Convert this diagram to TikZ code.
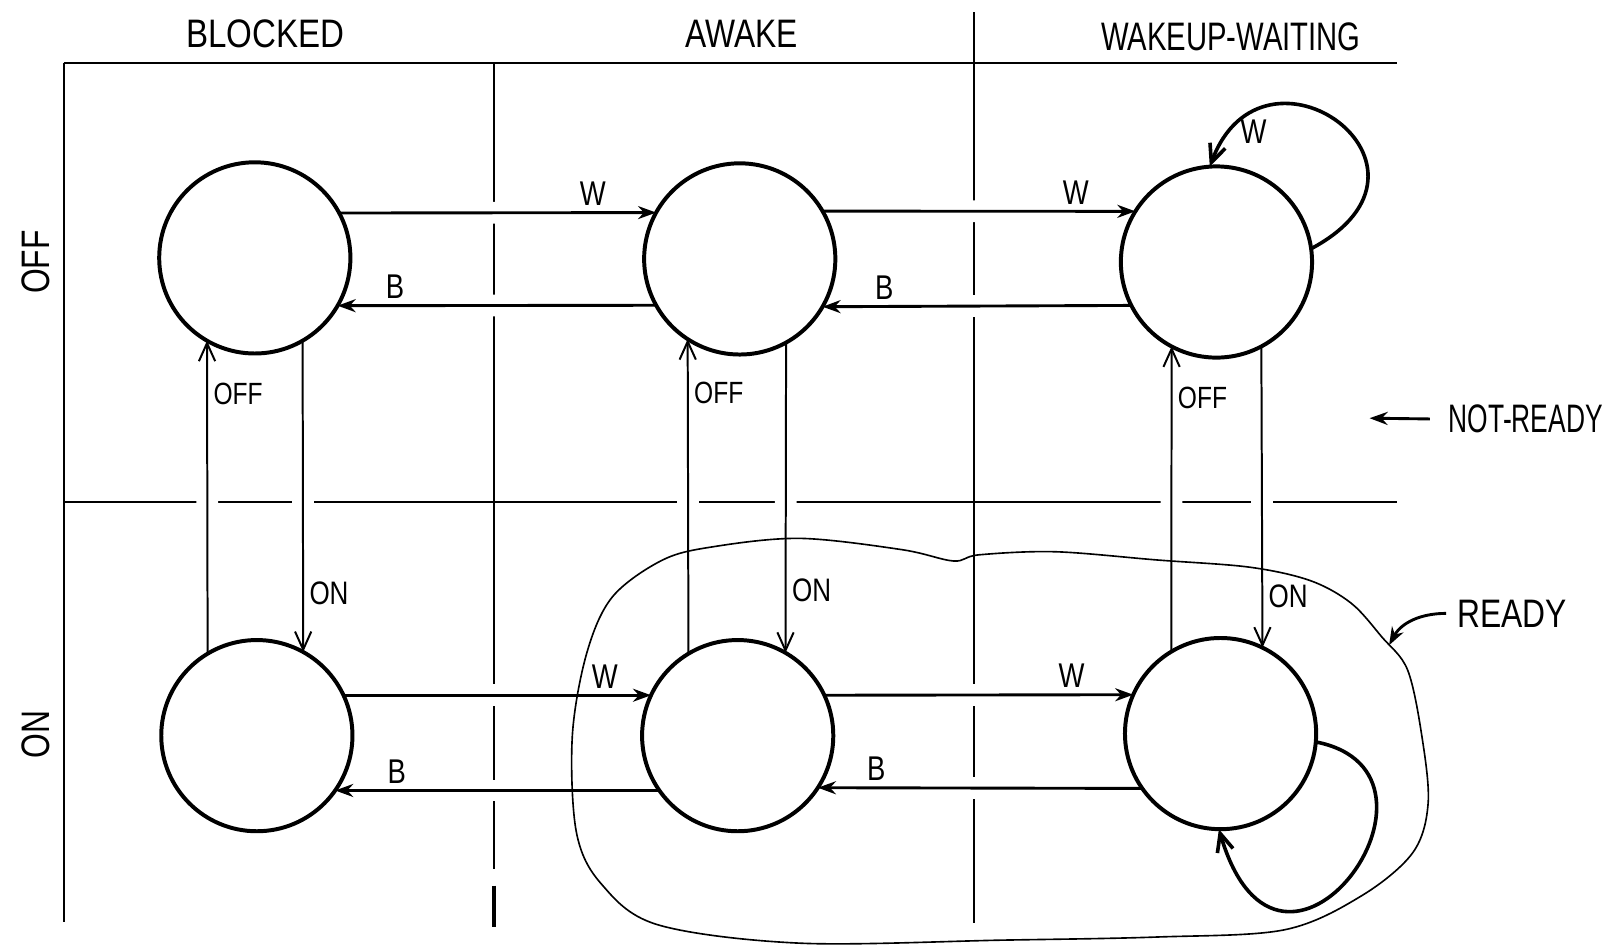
\documentclass[tikz,border=0pt]{standalone}
\usepackage{fontspec}
\newfontfamily\hand[FakeStretch=0.8]{Liberation Sans}
\usetikzlibrary{arrows.meta,calc}
\begin{document}
\begin{tikzpicture}[x=0.01cm,y=-0.01cm,
  state/.style={circle,draw,line width=1.1pt,minimum size=1.86cm,inner sep=0pt,outer sep=0pt},
  gridline/.style={line width=0.55pt},
  halo/.style={draw=white,line width=6pt,shorten <=25pt,shorten >=25pt},
  harrow/.style={line width=0.8pt,-{Stealth[length=5pt,width=3.6pt]}},
  varrow/.style={line width=0.55pt,-{Straight Barb[length=5pt,width=4.5pt]}},
  selfloop/.style={line width=1pt,-{Straight Barb[length=5pt,width=4.5pt]}},
  tlbl/.style={font=\hand\fontsize{9.5}{9.5}\selectfont,inner sep=1.5pt},
  onlbl/.style={font=\hand\fontsize{9}{9}\selectfont,inner sep=1.5pt},
  slbl/.style={font=\hand\fontsize{8.5}{8.5}\selectfont,inner sep=1.5pt},
  head/.style={font=\hand\fontsize{11}{11}\selectfont,inner sep=0pt},
  pointer/.style={line width=0.8pt,-{Stealth[length=5pt,width=3.6pt]}},
]
\useasboundingbox (0,0) rectangle (1568,923);

% states
\node[state] (A) at (248,251) {};
\node[state] (B) at (720,252) {};
\node[state] (C) at (1184,255) {};
\node[state] (D) at (250,716) {};
\node[state] (E) at (718,716) {};
\node[state] (F) at (1188,714) {};

% grid
\draw[gridline] (62,61) -- (1360,61);
\draw[gridline] (62,489) -- (1360,489);
\draw[gridline] (62,61) -- (62,897);
\draw[gridline] (481,61) -- (481,846);
\draw[line width=1pt] (481,862) -- (481,902);
\draw[gridline] (948,12) -- (948,898);

% gaps in the grid where connectors cross
\foreach \s/\t in {A.28/B.151, B.209/A.-30, B.30/C.148, C.207/B.-30,
                   D.25/E.155, E.215/D.-35, E.25/F.156, F.215/E.-33,
                   D.121/A.240, A.-60/D.61, E.121/B.237, B.-61/E.60,
                   F.121/C.242, C.-62/F.64}
  \path[halo] (\s) -- (\t);

% horizontal transitions
\draw[harrow] (A.28) -- node[tlbl,pos=0.8,above] {W} (B.151);
\draw[harrow] (B.209) -- node[tlbl,pos=0.82,above] {B} (A.-30);
\draw[harrow] (B.30) -- node[tlbl,pos=0.81,above] {W} (C.148);
\draw[harrow] (C.207) -- node[tlbl,pos=0.8,above] {B} (B.-30);
\draw[harrow] (D.25) -- node[tlbl,pos=0.85,above] {W} (E.155);
\draw[harrow] (E.215) -- node[tlbl,pos=0.81,above] {B} (D.-35);
\draw[harrow] (E.25) -- node[tlbl,pos=0.8,above] {W} (F.156);
\draw[harrow] (F.215) -- node[tlbl,pos=0.82,above] {B} (E.-33);

% vertical transitions
\draw[varrow] (D.121) -- node[slbl,pos=0.83,right] {OFF} (A.240);
\draw[varrow] (A.-60) -- node[onlbl,pos=0.81,right] {ON} (D.61);
\draw[varrow] (E.121) -- node[slbl,pos=0.83,right] {OFF} (B.237);
\draw[varrow] (B.-61) -- node[onlbl,pos=0.8,right] {ON} (E.60);
\draw[varrow] (F.121) -- node[slbl,pos=0.83,right] {OFF} (C.242);
\draw[varrow] (C.-62) -- node[onlbl,pos=0.83,right] {ON} (F.64);

% self loops
\draw[selfloop] (C.8) .. controls ($(C.8)+(150,-80)$) and ($(C.94)+(52,-140)$) .. node[tlbl,pos=0.9,right=1pt] {W} (C.94);
\draw[selfloop] (F.-5) .. controls ($(F.-5)+(154,30)$) and ($(F.-91)+(60,205)$) .. (F.-91);

% READY region
\draw[line width=0.45pt] plot[smooth cycle, tension=0.55] coordinates {
  (557,717) (571,636) (596,581) (645,545) (695,532) (779,524) (878,535)
  (928,546) (953,540) (1027,537) (1126,545) (1216,552) (1275,565)
  (1315,587) (1345,620) (1370,652) (1384,717) (1390,782) (1375,830)
  (1325,872) (1250,905) (1126,912) (977,915) (779,918) (640,900)
  (585,860) (561,810)};

% headings
\node[head] (hblocked) at (258,33) {\scalebox{1.04}[1]{BLOCKED}};
\node[head] (hawake) at (722,33) {AWAKE};
\node[head] (hww) at (1198,36) {\scalebox{0.92}[1]{WAKEUP-WAITING}};
\node[head,rotate=90] (hoff) at (35,255) {OFF};
\node[head,rotate=90] (hon) at (35,715) {ON};

% side annotations
\node[head] (nr) at (1485,408) {\scalebox{0.83}[1]{NOT-READY}};
\coordinate (nrtip) at (1333,407);
\draw[pointer,shorten <=5pt] (nr.west) -- (nrtip);

\node[head] (ready) at (1472,597) {READY};
\coordinate (rdtip) at (1352,628);
\draw[pointer,shorten <=3pt] (ready.west) .. controls ($(ready.west)+(-35,0)$) and ($(rdtip)+(12,-22)$) .. (rdtip);
\end{tikzpicture}
\end{document}
